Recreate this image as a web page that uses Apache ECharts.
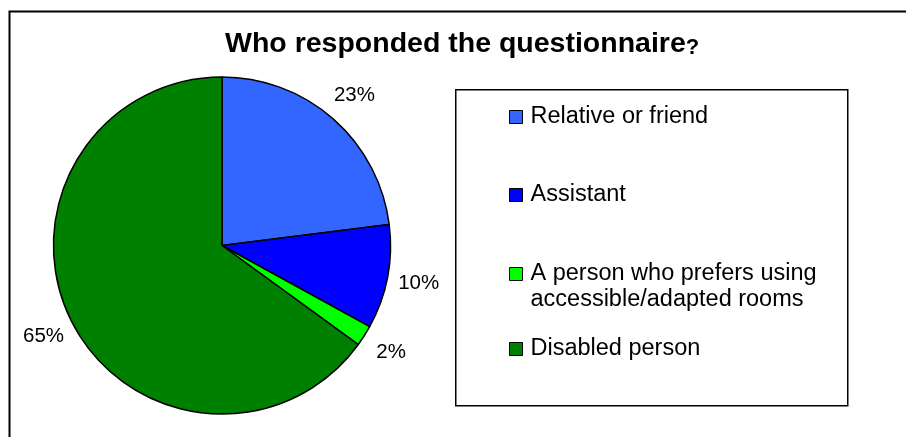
<!DOCTYPE html>
<html>
<head>
<meta charset="utf-8">
<script src="https://cdn.jsdelivr.net/npm/echarts@6/dist/echarts.min.js"></script>
<style>html,body{margin:0;padding:0;background:#fff}#c{width:906px;height:437px}</style>
</head>
<body>
<div id="c"></div>
<script>
const titleText = 'Who responded the questionnaire';
const categories = ['Relative or friend', 'Assistant', 'A person who prefers using\naccessible/adapted rooms', 'Disabled person'];
const values = [23, 10, 2, 65];
const colors = ['#3366FF', '#0000FF', '#00FF00', '#008000'];

const chart = echarts.init(document.getElementById('c'), null, {renderer: 'canvas'});
const data = categories.map((n, i) => ({name: n, value: values[i], itemStyle: {color: colors[i]}}));
const font = 'Liberation Sans, Arial, sans-serif';
const legendTops = [99, 177, 230, 331];
const legendRich = {
  a: {fontFamily: font, fontSize: 23.5, color: '#000', lineHeight: 26, padding: [0, 0, 0, 3]},
  e: {fontSize: 10, lineHeight: 26}
};
chart.setOption({
  animation: false,
  title: {
    text: titleText + '{q|?}',
    left: 220, top: 25,
    textStyle: {fontFamily: font, fontWeight: 'bold', fontSize: 28.5, color: '#000',
      rich: {q: {fontFamily: font, fontWeight: 'bold', fontSize: 22, color: '#000', verticalAlign: 'bottom'}}}
  },
  graphic: [
    {type: 'rect', left: 7, top: 9, shape: {width: 1000, height: 1000}, style: {fill: 'none', stroke: '#000', lineWidth: 2}, z: -1},
    {type: 'rect', left: 455, top: 89, shape: {width: 392, height: 316}, style: {fill: '#fff', stroke: '#000', lineWidth: 1.5}, z: -1}
  ],
  legend: categories.map((c, i) => ({
    data: [c], orient: 'vertical', left: 504, top: legendTops[i],
    icon: 'rect', itemWidth: 13, itemHeight: 13, itemGap: 0,
    itemStyle: {borderColor: '#000', borderWidth: 1},
    formatter: name => {
      const lines = name.split('\n').map(s => '{a|' + s + '}');
      return (lines.length > 1 ? '{e| }\n' : '') + lines.join('\n');
    },
    textStyle: {fontFamily: font, fontSize: 23.5, color: '#000', lineHeight: 26, rich: legendRich}
  })),
  series: [
    {
      type: 'pie', center: [222, 245.5], radius: 168.5, startAngle: 90, clockwise: true,
      data: data, label: {show: false}, labelLine: {show: false},
      itemStyle: {borderColor: '#000', borderWidth: 1.5},
      emphasis: {disabled: true}, silent: true
    },
    {
      type: 'pie', center: [222, 245.5], radius: [168.5, 226], startAngle: 90, clockwise: true,
      data: categories.map((n, i) => ({name: n + ' ', value: values[i]})),
      itemStyle: {color: 'rgba(0,0,0,0)', borderWidth: 0},
      label: {show: true, position: 'inside', formatter: p => p.value + '%', fontFamily: font, fontSize: 20.5, color: '#000', rotate: 0},
      labelLine: {show: false}, emphasis: {disabled: true}, silent: true, legendHoverLink: false
    }
  ]
});
</script>
</body>
</html>
